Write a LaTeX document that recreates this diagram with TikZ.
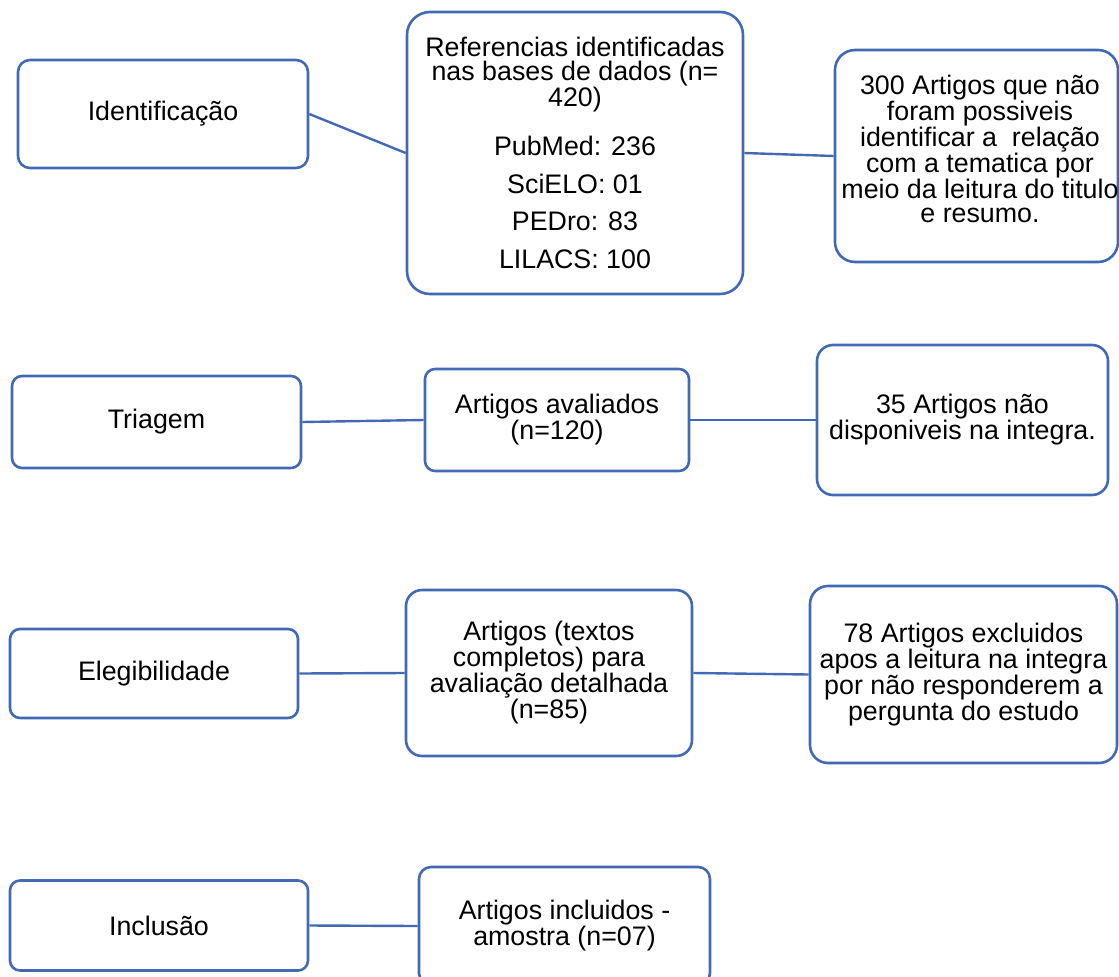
\documentclass[tikz,border=0pt]{standalone}
\usepackage{fontspec}
\setmainfont{Liberation Sans}
\definecolor{bordblue}{RGB}{66,106,180}
\begin{document}
\begin{tikzpicture}[x=1pt,y=-1pt,
  box/.style={draw=bordblue,line width=2.6pt,fill=white,rounded corners=#1,align=center,inner sep=0pt,
    font=\fontsize{26.8}{23.8}\selectfont},
  box/.default=12pt,
  conn/.style={draw=bordblue,line width=2.4pt}]
\useasboundingbox (0,0) rectangle (1119,977);
\clip (0,0) rectangle (1119,977);
% row 1
\node[box=12pt,minimum width=290pt,minimum height=108pt] (ident) at (163,114) {Identificação};
\node[box=23pt,minimum width=336pt,minimum height=282pt] (refs) at (575,153)
  {Referencias identificadas\\nas bases de dados (n=\\420)\\[23pt]PubMed: 236\\[14pt]SciELO: 01\\[14pt]PEDro: 83\\[14pt]LILACS: 100};
\node[box=20pt,minimum width=283pt,minimum height=212pt] (excl1) at (976.5,156) {};
\node[align=center,inner sep=0pt,font=\fontsize{26.8}{23.4}\selectfont] (excl1t) at (980,149)
  {300 Artigos que não\\foram possiveis\\identificar a\ \ relação\\com a tematica por\\meio da leitura do titulo\\e resumo.};
% row 2
\node[box=10pt,minimum width=289pt,minimum height=92pt] (triag) at (156.5,422) {Triagem};
\node[box=10pt,minimum width=264pt,minimum height=102pt] (aval) at (557,420) {Artigos avaliados\\(n=120)};
\node[box=16pt,minimum width=291pt,minimum height=150pt] (excl2) at (962.5,420) {35 Artigos não\\disponiveis na integra.};
% row 3
\node[box=10pt,minimum width=288pt,minimum height=89pt] (eleg) at (154,673.5) {Elegibilidade};
\node[box=16pt,minimum width=286pt,minimum height=166pt] (compl) at (549,673) {Artigos (textos\\completos) para\\avaliação detalhada\\(n=85)};
\node[box=18pt,minimum width=307pt,minimum height=177pt] (excl3) at (963.5,674.5) {78 Artigos excluidos\\apos a leitura na integra\\por não responderem a\\pergunta do estudo};
% row 4
\node[box=10pt,minimum width=298pt,minimum height=90pt] (incl) at (159,925.5) {Inclusão};
\node[box=12pt,minimum width=291pt,minimum height=118pt] (amos) at (564.5,926) {Artigos incluidos -\\amostra (n=07)};
% connectors
\draw[conn] (ident.east) -- (refs.west);
\draw[conn] (refs.east) -- (excl1.west);
\draw[conn] (triag.east) -- (aval.west);
\draw[conn] (aval.east) -- (excl2.west);
\draw[conn] (eleg.east) -- (compl.west);
\draw[conn] (compl.east) -- (excl3.west);
\draw[conn] (incl.east) -- (amos.west);
\end{tikzpicture}
\end{document}
